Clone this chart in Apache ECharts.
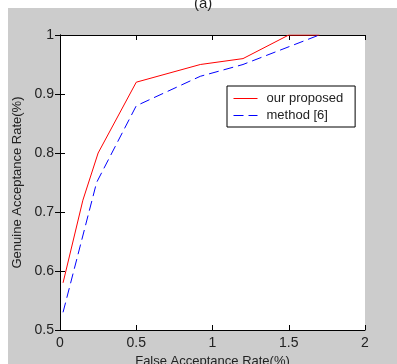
<!DOCTYPE html>
<html>
<head>
<meta charset="utf-8">
<script src="https://cdn.jsdelivr.net/npm/echarts@6/dist/echarts.min.js"></script>
<style>
  html, body { margin: 0; padding: 0; background: #fff; }
  #main { width: 397px; height: 364px; }
</style>
</head>
<body>
<div id="main"></div>
<script>
// values
const proposedX = [0.02, 0.15, 0.25, 0.5, 0.92, 1.2, 1.5, 1.7];
const proposedY = [0.58, 0.72, 0.80, 0.92, 0.95, 0.96, 1.0, 1.0];
const methodX = [0.02, 0.24, 0.5, 0.92, 1.2, 1.7];
const methodY = [0.53, 0.75, 0.88, 0.93, 0.95, 1.0];
const seriesNames = ['our proposed', 'method [6]'];

const toPairs = (xs, ys) => xs.map((x, i) => [x, ys[i]]);

const myChart = echarts.init(document.getElementById('main'));
const fontFam = '"Liberation Sans", Arial, sans-serif';
const tickFont = { color: '#222', fontSize: 14, fontFamily: fontFam };
const nameFont = { color: '#222', fontSize: 13, fontFamily: fontFam };

const option = {
    animation: false,
    backgroundColor: '#fff',
    graphic: [
        { type: 'rect', left: 8, top: 8, shape: { width: 389, height: 356 }, style: { fill: '#cccccc' }, z: -10 },
        { type: 'text', left: 194, top: -4, style: { text: '(a)', fontSize: 15, fill: '#222', fontFamily: fontFam } }
    ],
    grid: {
        left: 60, top: 35, width: 305, height: 295,
        outerBoundsMode: 'none',
        show: true, backgroundColor: '#fff', borderWidth: 0
    },
    legend: {
        orient: 'vertical',
        left: 227, top: 86,
        padding: [6, 12, 5, 6],
        itemWidth: 24, itemHeight: 10, itemGap: 4,
        backgroundColor: '#fff',
        borderColor: '#000', borderWidth: 1, borderRadius: 0,
        itemStyle: { opacity: 0 },
        lineStyle: { width: 1 },
        textStyle: { color: '#222', fontSize: 13, fontFamily: fontFam, padding: [0, 0, 0, 4] },
        data: seriesNames
    },
    xAxis: [
        {
            type: 'value', min: 0, max: 2, interval: 0.5,
            name: 'False Acceptance Rate(%)', nameLocation: 'middle', nameGap: 23,
            nameTextStyle: nameFont,
            axisLine: { lineStyle: { color: '#000' } },
            axisTick: { inside: true, length: 5, lineStyle: { color: '#000' } },
            axisLabel: Object.assign({ margin: 6 }, tickFont),
            splitLine: { show: false }
        },
        {
            type: 'value', min: 0, max: 2, interval: 0.5, position: 'top',
            axisLine: { show: true, lineStyle: { color: '#000' } },
            axisTick: { show: true, inside: true, length: 5, lineStyle: { color: '#000' } },
            axisLabel: { show: false },
            splitLine: { show: false }
        }
    ],
    yAxis: [
        {
            type: 'value', min: 0.5, max: 1, interval: 0.1,
            name: 'Genuine Acceptance Rate(%)', nameLocation: 'middle', nameGap: 28,
            nameTextStyle: nameFont,
            axisLine: { show: true, lineStyle: { color: '#000' } },
            axisTick: { show: true, inside: true, length: 5, lineStyle: { color: '#000' } },
            axisLabel: Object.assign({ margin: 6, formatter: v => String(Math.round(v * 10) / 10) }, tickFont),
            splitLine: { show: false }
        },
        {
            type: 'value', min: 0.5, max: 1, interval: 0.1, position: 'right',
            axisLine: { show: true, lineStyle: { color: '#000' } },
            axisTick: { show: true, inside: true, length: 5, lineStyle: { color: '#000' } },
            axisLabel: { show: false },
            splitLine: { show: false }
        }
    ],
    series: [
        {
            name: seriesNames[0],
            type: 'line',
            symbol: 'none',
            color: '#ff0000',
            lineStyle: { width: 1, color: '#ff0000' },
            data: toPairs(proposedX, proposedY)
        },
        {
            name: seriesNames[1],
            type: 'line',
            symbol: 'none',
            color: '#0000ff',
            lineStyle: { width: 1, color: '#0000ff', type: [10, 5] },
            data: toPairs(methodX, methodY)
        }
    ]
};
myChart.setOption(option);
</script>
</body>
</html>
